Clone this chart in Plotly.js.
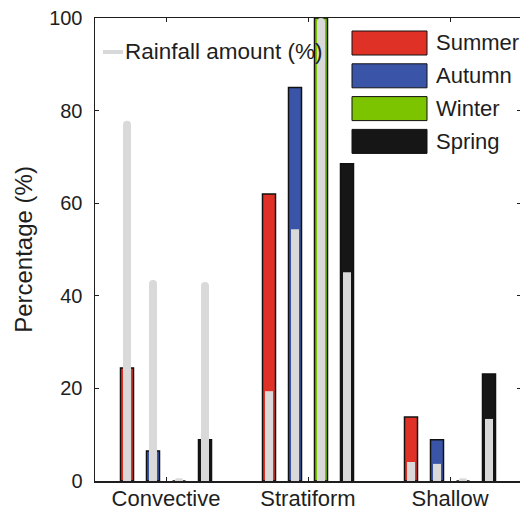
<!DOCTYPE html>
<html>
<head>
<meta charset="utf-8">
<script src="https://cdn.plot.ly/plotly-3.0.1.min.js"></script>
<style>
html,body{margin:0;padding:0;overflow:hidden;background:#fff;}
#chart{width:530px;height:510px;}
</style>
</head>
<body>
<div id="chart"></div>
<script>
// ---- data ----
const categories = ['Convective', 'Stratiform', 'Shallow'];
const seasons = ['Summer', 'Autumn', 'Winter', 'Spring'];
const summerPct = [24.4, 62.0, 13.8];
const autumnPct = [6.5, 85.0, 8.9];
const winterPct = [0, 100, 0];
const springPct = [8.9, 68.5, 23.1];
const summerRain = [77.8, 19.4, 4.1];
const autumnRain = [43.4, 54.4, 3.7];
const winterRain = [0.6, 100, 0.6];
const springRain = [43.0, 45.1, 13.4];
const yTicks = [0, 20, 40, 60, 80, 100];
const rainLabel = 'Rainfall amount (%)';

// ---- styling ----
const seasonColors = ['#E03127', '#3A55A8', '#7DC400', '#161616'];
const grayColor = '#D9D9D9';
const textColor = '#1E1E1E';
const font = 'Liberation Sans, Arial, Helvetica, sans-serif';

const pctSeries = [summerPct, autumnPct, winterPct, springPct];
const rainSeries = [summerRain, autumnRain, winterRain, springRain];

const ml = 95, mr = 9, mt = 18, mb = 29, W = 530, H = 510;
const pw = W - ml - mr, ph = H - mt - mb;
const unitPx = pw / categories.length;
const barW = 13 / unitPx, grayW = 8 / unitPx, step = 26 / unitPx;

const traces = [];
pctSeries.forEach((vals, i) => {
  const c = (i - 1.5) * step;
  traces.push({
    type: 'bar', x: categories, y: vals, name: seasons[i],
    width: barW, offset: c - barW / 2,
    marker: {color: seasonColors[i], line: {color: '#111', width: 1.5}},
    showlegend: false, hoverinfo: 'skip'
  });
});
rainSeries.forEach((vals, i) => {
  const c = (i - 1.5) * step;
  traces.push({
    type: 'bar', x: categories, y: vals, name: rainLabel,
    width: grayW, offset: c - grayW / 2,
    marker: {color: grayColor, line: {width: 0}, cornerradius: 4},
    showlegend: false, hoverinfo: 'skip'
  });
});

const px = x => (x - ml) / pw;
const py = y => 1 - (y - mt) / ph;

const shapes = [];
const annotations = [];
// rainfall legend
shapes.push({type: 'line', xref: 'paper', yref: 'paper', x0: px(103), x1: px(123), y0: py(52), y1: py(52),
  line: {color: grayColor, width: 4}});
annotations.push({xref: 'paper', yref: 'paper', x: px(123), y: py(52), xanchor: 'left', yanchor: 'middle',
  text: rainLabel, showarrow: false, font: {family: font, size: 22.5, color: textColor}});
// season legend
seasons.forEach((s, i) => {
  const top = 31 + i * 32.8, bot = top + 24;
  shapes.push({type: 'rect', xref: 'paper', yref: 'paper', x0: px(352), x1: px(427), y0: py(bot), y1: py(top),
    fillcolor: seasonColors[i], line: {color: '#111', width: 1}});
  annotations.push({xref: 'paper', yref: 'paper', x: px(434), y: py((top + bot) / 2), xanchor: 'left', yanchor: 'middle',
    text: s, showarrow: false, font: {family: font, size: 22, color: textColor}});
});

const layout = {
  width: W, height: H,
  margin: {l: ml, r: mr, t: mt, b: mb, pad: 0},
  paper_bgcolor: '#fff', plot_bgcolor: '#fff',
  barmode: 'overlay',
  showlegend: false,
  font: {family: font, size: 20, color: textColor},
  xaxis: {
    type: 'category', range: [-0.5, 2.5],
    showline: true, linecolor: textColor, linewidth: 1.5, mirror: 'ticks',
    ticks: 'inside', ticklen: 4, tickcolor: textColor, tickwidth: 1,
    tickfont: {family: font, size: 22, color: textColor},
    ticklabelstandoff: -3,
    showgrid: false, zeroline: false, fixedrange: true
  },
  yaxis: {
    range: [0, 100], tickvals: yTicks, ticktext: yTicks.map(String),
    showline: true, linecolor: textColor, linewidth: 1.5, mirror: 'ticks',
    ticks: 'inside', ticklen: 4, tickcolor: textColor, tickwidth: 1,
    tickfont: {family: font, size: 20, color: textColor},
    ticklabelstandoff: 7,
    showgrid: false, zeroline: false, fixedrange: true,
    title: {text: 'Percentage (%)', font: {family: font, size: 24, color: textColor}, standoff: 9}
  },
  shapes: shapes,
  annotations: annotations
};

Plotly.newPlot('chart', traces, layout, {displayModeBar: false, staticPlot: true});
</script>
</body>
</html>
